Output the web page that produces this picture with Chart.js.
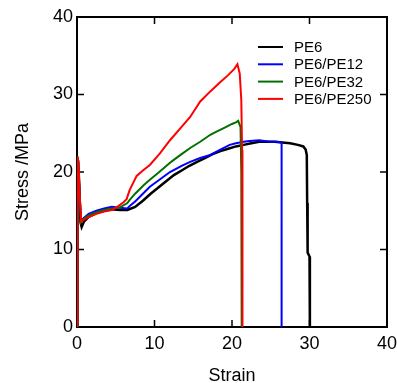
<!DOCTYPE html>
<html>
<head>
<meta charset="utf-8">
<script src="https://cdn.jsdelivr.net/npm/chart.js@4/dist/chart.umd.min.js"></script>
<style>
  html,body{margin:0;padding:0;background:#fff;}
  #wrap{width:397px;height:383px;position:relative;}
</style>
</head>
<body>
<div id="wrap"><canvas id="ch"></canvas></div>
<script>
// ── data ──
const seriesNames=['PE6','PE6/PE12','PE6/PE32','PE6/PE250'];
const seriesColors=['#000000','#0000ff','#007000','#ff0000'];
const xTicks=[0,10,20,30,40];
const yTicks=[0,10,20,30,40];

const pe6Strain =[0,0.05,0.1,0.15,0.3,0.45,0.6,0.9,1.5,2.5,3.5,4.5,5.5,6.5,7.5,8.5,9.5,10.5,11.5,12.5,13.5,14.5,15.5,16.5,17.5,18.5,19.5,20.5,21.5,22.5,23.5,24.5,25.5,26.5,27.5,28.5,29.2,29.5,29.65,29.7,29.72,29.8,30.0,30.05];
const pe6Stress =[0,10,20,21.5,18,13.5,12.9,13.6,14.2,14.7,15.0,15.2,15.1,15.1,15.5,16.3,17.2,18.0,18.8,19.6,20.2,20.8,21.3,21.8,22.3,22.7,23.0,23.3,23.5,23.7,23.9,23.9,23.9,23.8,23.7,23.5,23.3,22.9,22.2,16,10.4,9.6,9.1,0];

const pe12Strain=[0,0.08,0.2,0.5,0.8,1.5,2.5,3.5,4.5,5.5,6.5,6.8,7.5,8.5,9.4,10.5,12.0,13.5,14.6,15.9,17.2,18.5,19.7,20.5,21.5,22.3,23.5,24.9,25.8,26.4,26.4];
const pe12Stress=[0,21,20,13.8,14.0,14.6,15.0,15.3,15.5,15.4,15.3,15.6,16.2,17.2,18.1,18.9,20.0,20.8,21.3,21.8,22.2,22.9,23.5,23.7,23.9,24.0,24.1,23.9,23.9,23.8,0];

const pe32Strain=[0,0.08,0.2,0.5,0.8,1.5,2.5,3.5,4.5,5.5,6.5,6.8,7.5,8.6,9.4,10.5,12.0,12.4,13.5,14.6,15.9,17.2,18.0,19.0,20.0,20.5,20.8,21.1,21.2,21.25];
const pe32Stress=[0,22,20.5,13.5,13.9,14.4,14.8,15.1,15.3,15.4,16.0,16.4,17.2,18.3,19.0,19.9,21.2,21.5,22.3,23.1,23.9,24.8,25.2,25.7,26.2,26.4,26.6,25.8,20,0];

const pe250Strain=[0,0.08,0.2,0.35,0.55,0.8,1.5,2.5,3.5,4.5,5.2,6.0,6.4,6.8,7.7,8.5,9.4,10.7,12.0,13.3,14.6,15.9,17.2,18.5,19.5,20.3,20.7,21.0,21.2,21.3,21.35];
const pe250Stress=[0,22,21,17,13.6,13.8,14.2,14.6,14.9,15.1,15.5,16.1,16.5,17.7,19.5,20.2,20.9,22.4,24.1,25.6,27.1,29.1,30.4,31.6,32.5,33.3,33.9,32.7,29.3,22.8,0];

const strains=[pe6Strain,pe12Strain,pe32Strain,pe250Strain];
const stresses=[pe6Stress,pe12Stress,pe32Stress,pe250Stress];
const widths=[2.5,2,2,2];

const FONT='"Liberation Sans", Arial, sans-serif';

const datasets=seriesNames.map((name,i)=>({
  label:name,
  data:strains[i].map((x,j)=>({x,y:stresses[i][j]})),
  borderColor:seriesColors[i],
  backgroundColor:seriesColors[i],
  borderWidth:widths[i],
  pointRadius:0,
  showLine:true,
  tension:0,
  order:seriesNames.length-i   // red on top, black underneath
}));

// frame + inward ticks on all four sides
const framePlugin={
  id:'frame',
  beforeDatasetsDraw(chart){
    const {ctx,chartArea:a,scales:{x,y}}=chart;
    ctx.save();
    ctx.strokeStyle='#000';
    ctx.lineWidth=2;
    ctx.strokeRect(a.left,a.top,a.right-a.left,a.bottom-a.top);
    ctx.lineWidth=1.5;
    const tl=7;
    ctx.beginPath();
    xTicks.forEach(v=>{
      const px=x.getPixelForValue(v);
      ctx.moveTo(px,a.bottom); ctx.lineTo(px,a.bottom-tl);
      ctx.moveTo(px,a.top); ctx.lineTo(px,a.top+tl);
    });
    yTicks.forEach(v=>{
      const py=y.getPixelForValue(v);
      ctx.moveTo(a.left,py); ctx.lineTo(a.left+tl,py);
      ctx.moveTo(a.right,py); ctx.lineTo(a.right-tl,py);
    });
    ctx.stroke();
    ctx.restore();
  }
};

// legend inside the plot, top right
const legendPlugin={
  id:'innerLegend',
  afterDatasetsDraw(chart){
    const {ctx}=chart;
    ctx.save();
    ctx.font='15px '+FONT;
    ctx.textBaseline='middle';
    ctx.fillStyle='#000';
    seriesNames.forEach((n,i)=>{
      const yy=47+i*17.3;
      ctx.strokeStyle=seriesColors[i];
      ctx.lineWidth=2;
      ctx.beginPath(); ctx.moveTo(258,yy); ctx.lineTo(283,yy); ctx.stroke();
      ctx.fillText(n,294,yy+1);
    });
    ctx.restore();
  }
};

new Chart(document.getElementById('ch'),{
  type:'scatter',
  data:{datasets},
  options:{
    responsive:true,maintainAspectRatio:false,animation:false,
    layout:{padding:{top:17,right:10,left:0,bottom:0}},
    plugins:{legend:{display:false},tooltip:{enabled:false}},
    scales:{
      x:{
        type:'linear',min:0,max:40,
        afterBuildTicks:s=>{s.ticks=xTicks.map(v=>({value:v}));},
        afterFit:s=>{s.height=56;s.paddingLeft=0;s.paddingRight=0;},
        grid:{display:false,drawTicks:false},
        border:{display:false},
        ticks:{padding:6,color:'#000',font:{family:FONT,size:18},maxRotation:0},
        title:{display:true,text:'Strain',color:'#000',font:{family:FONT,size:18,lineHeight:1},padding:{top:0,bottom:-2}}
      },
      y:{
        type:'linear',min:0,max:40,
        afterBuildTicks:s=>{s.ticks=yTicks.map(v=>({value:v}));},
        afterFit:s=>{s.width=77;s.paddingTop=0;s.paddingBottom=0;},
        grid:{display:false,drawTicks:false},
        border:{display:false},
        ticks:{padding:4,color:'#000',font:{family:FONT,size:18}},
        title:{display:true,text:'Stress /MPa',color:'#000',font:{family:FONT,size:18,lineHeight:1},padding:{top:14,bottom:0}}
      }
    }
  },
  plugins:[framePlugin,legendPlugin]
});
</script>
</body>
</html>
